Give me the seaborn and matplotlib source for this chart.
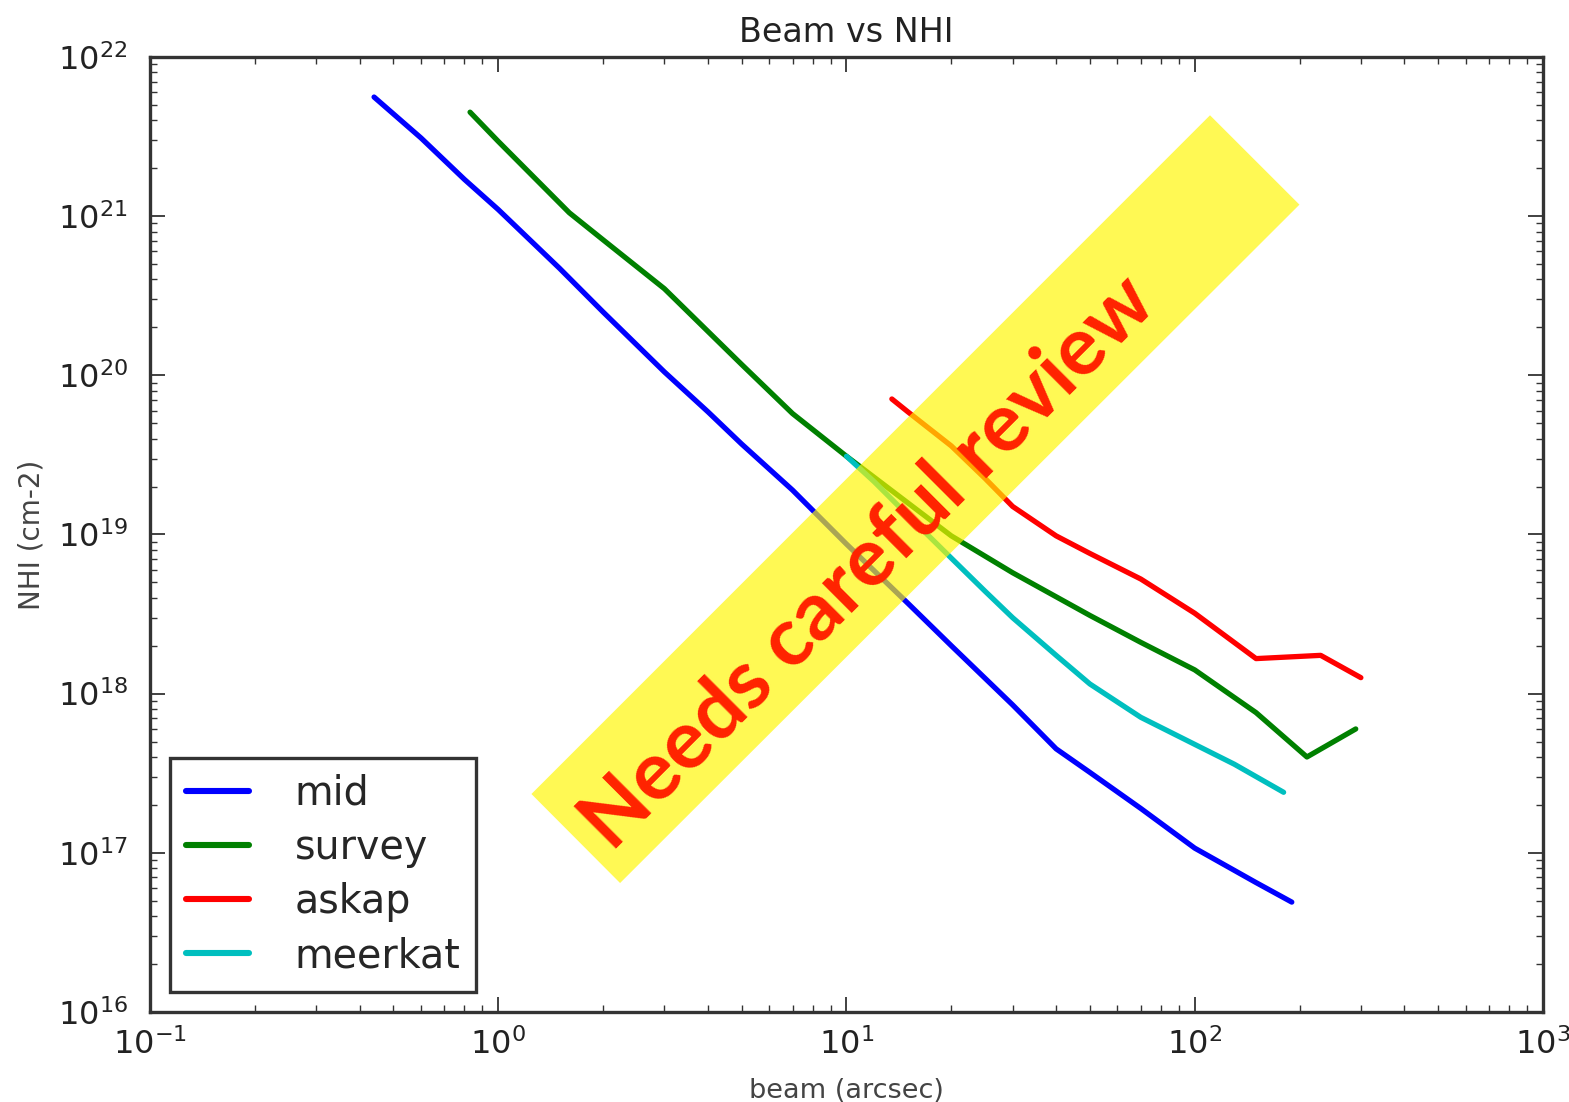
import matplotlib
matplotlib.use("Agg")
import matplotlib.pyplot as plt
import pandas as pd
import seaborn as sns
from matplotlib.patches import Polygon
from matplotlib.ticker import LogLocator

# ---- data ----
mid_beam = [0.44, 0.6, 0.8, 1.0, 1.5, 2, 3, 4, 5, 7, 10, 15, 20, 30, 40, 50, 70, 100, 150, 190]
mid_nhi = [5.6e21, 3.1e21, 1.7e21, 1.1e21, 4.7e20, 2.5e20, 1.05e20, 5.9e19, 3.7e19, 1.9e19,
           8.7e18, 3.7e18, 2.0e18, 8.5e17, 4.5e17, 3.2e17, 1.9e17, 1.07e17, 6.5e16, 4.9e16]

survey_beam = [0.83, 1.0, 1.6, 2, 3, 5, 7, 10, 15, 20, 30, 50, 70, 100, 150, 210, 290]
survey_nhi = [4.5e21, 2.95e21, 1.05e21, 7.1e20, 3.5e20, 1.17e20, 5.75e19, 3.1e19, 1.58e19,
              9.8e18, 5.75e18, 3.1e18, 2.1e18, 1.41e18, 7.6e17, 4.0e17, 6.0e17]

askap_beam = [13.5, 15, 20, 25, 30, 40, 50, 70, 100, 150, 230, 300]
askap_nhi = [7.1e19, 5.9e19, 3.6e19, 2.25e19, 1.5e19, 9.8e18, 7.6e18, 5.25e18, 3.2e18,
             1.66e18, 1.74e18, 1.26e18]

meerkat_beam = [10, 12, 15, 20, 25, 30, 40, 50, 70, 100, 130, 180]
meerkat_nhi = [3.1e19, 2.15e19, 1.32e19, 7.1e18, 4.4e18, 3.0e18, 1.74e18, 1.15e18, 7.1e17,
               4.8e17, 3.6e17, 2.4e17]

series_names = ["mid", "survey", "askap", "meerkat"]
series_colors = ["#0000ff", "#008000", "#ff0000", "#00bfbf"]

title_text = "Beam vs NHI"
x_label = "beam (arcsec)"
y_label = "NHI (cm-2)"
stamp_text = "Needs careful review"

x_limits = (0.1, 1000)
y_limits = (1e16, 1e22)

# ---- build long-form table ----
frames = []
for name, bx, ny in zip(series_names,
                        [mid_beam, survey_beam, askap_beam, meerkat_beam],
                        [mid_nhi, survey_nhi, askap_nhi, meerkat_nhi]):
    frames.append(pd.DataFrame({"beam": bx, "nhi": ny, "series": name}))
df = pd.concat(frames, ignore_index=True)

sns.set_style("ticks")
plt.rcParams["font.family"] = ["DejaVu Sans"]
plt.rcParams["mathtext.default"] = "regular"

fig = plt.figure(figsize=(15.69, 11.02), dpi=100, facecolor="white")
ax = fig.add_axes([0.0956, 0.0817, 0.8878, 0.8666])
ax.set_xscale("log")
ax.set_yscale("log")

sns.lineplot(data=df, x="beam", y="nhi", hue="series", hue_order=series_names,
             palette=series_colors, estimator=None, sort=False, linewidth=3.8, ax=ax)

ax.set_xlim(*x_limits)
ax.set_ylim(*y_limits)
ax.set_yticks([10.0 ** k for k in range(16, 23)])
ax.set_xticks([10.0 ** k for k in range(-1, 4)])
ax.yaxis.set_minor_locator(LogLocator(base=10, subs=range(2, 10), numticks=100))
ax.xaxis.set_minor_locator(LogLocator(base=10, subs=range(2, 10), numticks=100))
ax.set_xlim(*x_limits)
ax.set_ylim(*y_limits)

for sp in ax.spines.values():
    sp.set_visible(True)
    sp.set_linewidth(2.4)
    sp.set_color("#333333")

ax.tick_params(which="both", direction="in", top=True, right=True, colors="#333333")
ax.tick_params(which="major", length=11, width=1.3, labelsize=23, labelcolor="#222222")
ax.tick_params(axis="y", which="major", pad=16)
ax.tick_params(axis="x", which="major", pad=12)
ax.tick_params(which="minor", length=5, width=1.0)

ax.set_title(title_text, fontsize=24, color="#222222", pad=11)
ax.set_xlabel(x_label, fontsize=19.5, color="#444444", labelpad=12)
ax.set_ylabel(y_label, fontsize=20, color="#444444", labelpad=9)

sns.move_legend(ax, "lower left", title=None, fontsize=28.5, frameon=True, fancybox=False,
                edgecolor="#333333", framealpha=1, handlelength=1.6, handletextpad=1.15,
                labelspacing=0.36, borderpad=0.4, borderaxespad=0.5)
leg = ax.get_legend()
leg.get_frame().set_linewidth(2.4)
for ln in leg.get_lines():
    ln.set_linewidth(4.4)

# ---- review stamp ----
band = Polygon([(0.7712, 0.8954), (0.8282, 0.8143), (0.3952, 0.1987), (0.3387, 0.2795)],
               closed=True, transform=fig.transFigure, facecolor=(1.0, 0.97, 0.0),
               edgecolor="none", alpha=0.67, zorder=5)
fig.add_artist(band)
fig.text(0.5640, 0.4740, stamp_text, rotation=45, rotation_mode="anchor",
         ha="center", va="baseline", color="#ff2200", fontsize=59, fontweight="bold",
         family=["Lato", "DejaVu Sans"], zorder=6)

fig.savefig("out.png", dpi=100, facecolor="white")
